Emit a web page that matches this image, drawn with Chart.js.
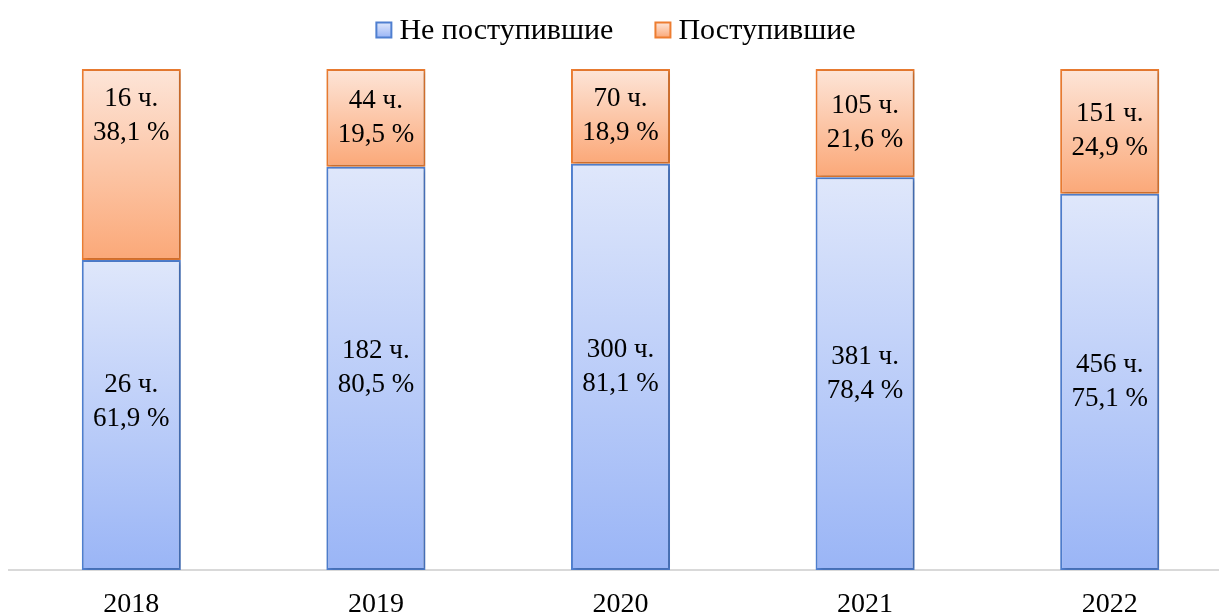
<!DOCTYPE html>
<html>
<head>
<meta charset="utf-8">
<script src="https://cdn.jsdelivr.net/npm/chart.js@4"></script>
<style>
  html, body { margin: 0; padding: 0; background: #fff; overflow: hidden; }
  #wrap { width: 1232px; height: 616px; }
</style>
</head>
<body>
<div id="wrap"><canvas id="myChart" width="1232" height="616"></canvas></div>
<script>
// chart data
const years = ['2018', '2019', '2020', '2021', '2022'];
const notAdmittedCount = [26, 182, 300, 381, 456];
const admittedCount = [16, 44, 70, 105, 151];
const notAdmittedPct = [61.9, 80.5, 81.1, 78.4, 75.1];
const admittedPct = [38.1, 19.5, 18.9, 21.6, 24.9];

const FONT = '"Liberation Serif", "Times New Roman", serif';

// colours: [light top, dark bottom, border]
const blue = ['#dfe7fb', '#9ab5f6', '#4f7fd0'];
const orange = ['#fde5d8', '#fba878', '#ed7d31'];

// gradient per segment, top light -> bottom darker
function segmentGradient(ctx, top, bottom, light, dark) {
  const chart = ctx.chart;
  const y = chart.scales.y;
  if (!y || !chart.chartArea) return dark;
  const y0 = y.getPixelForValue(top);
  const y1 = y.getPixelForValue(bottom);
  if (!isFinite(y0) || !isFinite(y1)) return dark;
  const g = chart.ctx.createLinearGradient(0, y0, 0, y1);
  g.addColorStop(0, light);
  g.addColorStop(1, dark);
  return g;
}

// label offsets for the 2018 bar (the original labels sit higher there)
const labelShift = { 0: [-13, -49] };

// soft shadow behind the bars
const barShadow = {
  id: 'barShadow',
  beforeDatasetsDraw(chart) {
    const c = chart.ctx;
    c.save();
    c.shadowColor = 'rgba(0,0,0,0.22)';
    c.shadowBlur = 4;
    c.shadowOffsetX = 2;
    c.shadowOffsetY = 1;
  },
  afterDatasetsDraw(chart) {
    chart.ctx.restore();
  }
};

const barLabels = {
  id: 'barLabels',
  afterDatasetsDraw(chart) {
    const ctx = chart.ctx;
    const counts = [notAdmittedCount, admittedCount];
    const pcts = [notAdmittedPct, admittedPct];
    ctx.save();
    ctx.font = '27px ' + FONT;
    ctx.fillStyle = '#000';
    ctx.textAlign = 'center';
    ctx.textBaseline = 'middle';
    chart.data.datasets.forEach((ds, di) => {
      chart.getDatasetMeta(di).data.forEach((bar, i) => {
        let cy = (bar.y + bar.base) / 2;
        if (labelShift[i]) cy += labelShift[i][di];
        ctx.fillText(counts[di][i] + ' ч.', bar.x, cy - 17);
        ctx.fillText(pcts[di][i].toFixed(1).replace('.', ',') + ' %', bar.x, cy + 17);
      });
    });
    ctx.restore();
  }
};

// legend drawn at the top, centred on the canvas
const topLegend = {
  id: 'topLegend',
  afterDraw(chart) {
    const ctx = chart.ctx;
    const box = 15, gapBox = 8, gapItem = 42, cy = 30;
    ctx.save();
    ctx.font = '30px ' + FONT;
    ctx.textBaseline = 'middle';
    const items = chart.data.datasets.map(ds => ({
      ds, w: box + gapBox + ctx.measureText(ds.label).width
    }));
    const total = items.reduce((s, it) => s + it.w, 0) + gapItem * (items.length - 1);
    let x = chart.width / 2 - total / 2;
    items.forEach(({ ds, w }) => {
      const g = ctx.createLinearGradient(0, cy - box / 2, 0, cy + box / 2);
      g.addColorStop(0, ds.legendColors[0]);
      g.addColorStop(1, ds.legendColors[1]);
      ctx.fillStyle = g;
      ctx.fillRect(x, cy - box / 2, box, box);
      ctx.strokeStyle = ds.borderColor;
      ctx.lineWidth = 2;
      ctx.strokeRect(x, cy - box / 2, box, box);
      ctx.fillStyle = '#000';
      ctx.fillText(ds.label, x + box + gapBox, cy + 1);
      x += w + gapItem;
    });
    ctx.restore();
  }
};

const ctx = document.getElementById('myChart').getContext('2d');
const myChart = new Chart(ctx, {
  type: 'bar',
  data: {
    labels: years,
    datasets: [
      {
        label: 'Не поступившие',
        data: notAdmittedPct,
        backgroundColor: (c) => segmentGradient(c, notAdmittedPct[c.dataIndex] || 0, 0, blue[0], blue[1]),
        borderColor: blue[2],
        borderWidth: 2,
        borderSkipped: false,
        legendColors: blue,
      },
      {
        label: 'Поступившие',
        data: admittedPct,
        backgroundColor: (c) => segmentGradient(c, 100, notAdmittedPct[c.dataIndex] || 0, orange[0], orange[1]),
        borderColor: orange[2],
        borderWidth: 2,
        borderSkipped: false,
        legendColors: orange,
      },
    ],
  },
  options: {
    responsive: false,
    animation: false,
    layout: { padding: { top: 69, left: 9, right: 0, bottom: 0 } },
    datasets: {
      bar: { barPercentage: 1, categoryPercentage: 0.405 },
    },
    plugins: {
      tooltip: { enabled: false },
      legend: { display: false },
    },
    scales: {
      x: {
        stacked: true,
        grid: { display: false, drawTicks: false },
        border: { display: true, color: '#d9d9d9', width: 2 },
        ticks: {
          font: { family: FONT, size: 28, lineHeight: 1.1 },
          color: '#000',
          padding: 19,
        },
        afterFit(scale) { scale.height = 46; },
      },
      y: {
        stacked: true,
        display: false,
        min: 0,
        max: 100,
      },
    },
  },
  plugins: [barShadow, barLabels, topLegend],
});
</script>
</body>
</html>
